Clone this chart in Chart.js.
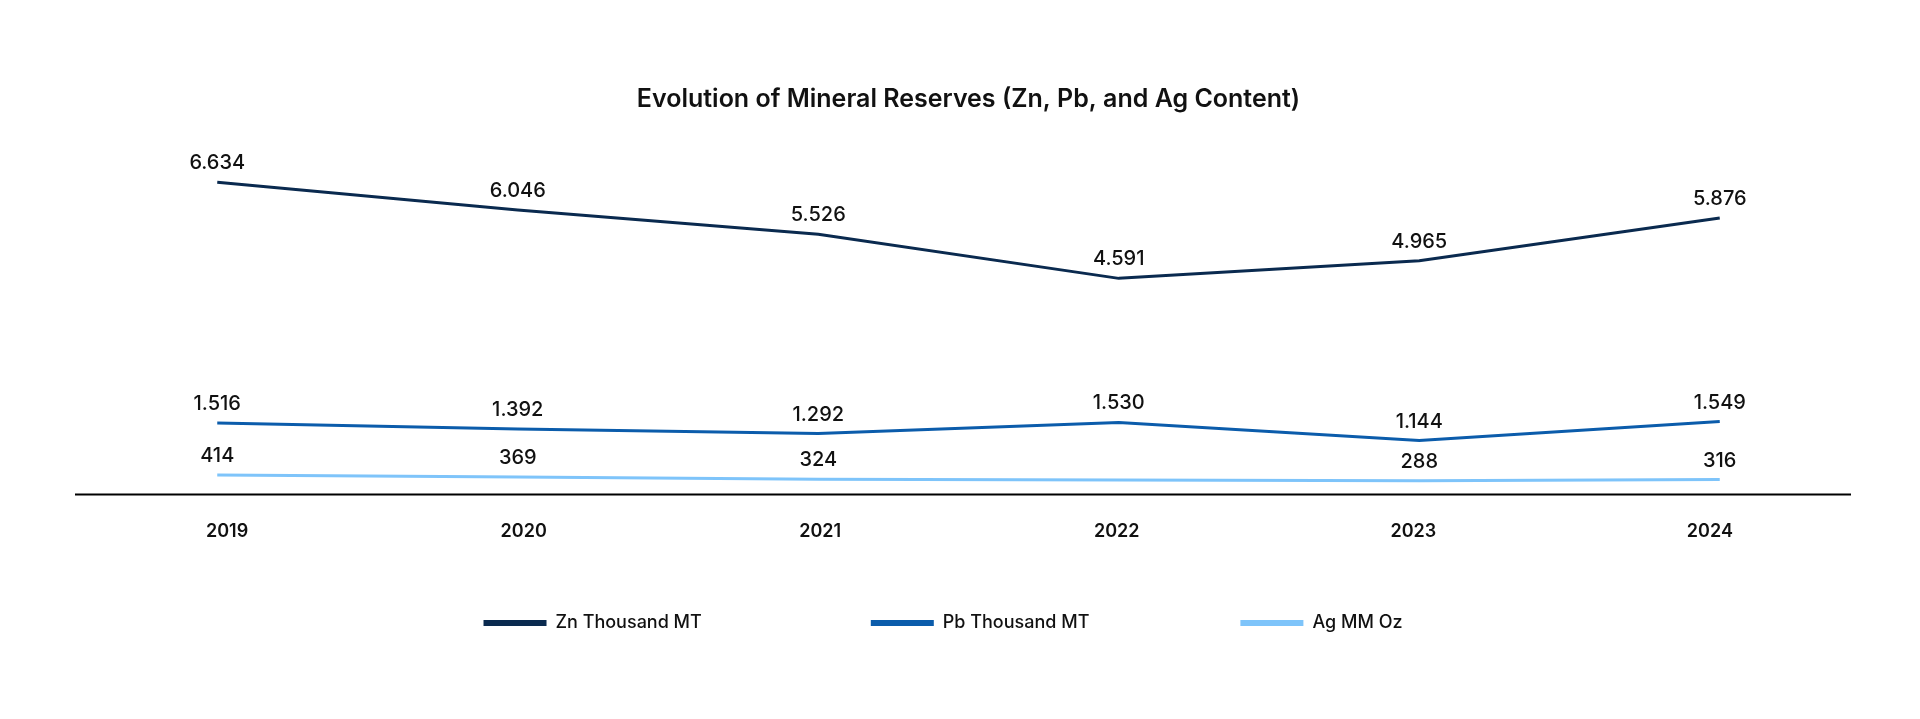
<!DOCTYPE html>
<html lang="en">
<head>
    <meta charset="UTF-8">
    <title>Evolution of Mineral Reserves</title>
    <script src="https://cdn.jsdelivr.net/npm/chart.js@4.4.1/dist/chart.umd.min.js"></script>
    <style>
        html, body {
            margin: 0;
            padding: 0;
            background: #ffffff;
        }

        #chart-wrapper {
            position: relative;
            width: 1920px;
            height: 719px;
        }
    </style>
</head>
<body>
<div id="chart-wrapper">
    <canvas id="reserves-chart"></canvas>
</div>

<script>
    const years = ["2019", "2020", "2021", "2022", "2023", "2024"];
    const seriesNames = ["Zn Thousand MT", "Pb Thousand MT", "Ag MM Oz"];
    const znValues = [6634, 6046, 5526, 4591, 4965, 5876];
    const pbValues = [1516, 1392, 1292, 1530, 1144, 1549];
    // no Ag figure is shown for 2022
    const agValues = [414, 369, 324, null, 288, 316];
    const seriesColors = ["#0a2a4f", "#0b5cab", "#7ec4fa"];

    const fontFamily = "Inter, 'Noto Sans', sans-serif";

    // value labels above every point
    const pointLabels = {
        id: "pointLabels",
        afterDatasetsDraw(chart) {
            const ctx = chart.ctx;
            ctx.save();
            ctx.font = "500 20px " + fontFamily;
            ctx.fillStyle = "#111111";
            ctx.textAlign = "center";
            ctx.textBaseline = "middle";

            chart.data.datasets.forEach((dataset, i) => {
                const meta = chart.getDatasetMeta(i);
                meta.data.forEach((point, index) => {
                    const value = dataset.data[index];
                    if (value === null) return;
                    ctx.fillText(value.toLocaleString("de-DE"), point.x, point.y - 19);
                });
            });
            ctx.restore();
        }
    };

    // black base line, a bit shorter than the category band
    const baseLine = {
        id: "baseLine",
        afterDraw(chart) {
            const ctx = chart.ctx;
            const area = chart.chartArea;
            const y = chart.scales.y.getPixelForValue(0);
            ctx.save();
            ctx.strokeStyle = "#000000";
            ctx.lineWidth = 2;
            ctx.beginPath();
            ctx.moveTo(area.left + 8, y);
            ctx.lineTo(area.right - 19, y);
            ctx.stroke();
            ctx.restore();
        }
    };

    // legend drawn under the axis, line swatches like the original
    const lineLegend = {
        id: "lineLegend",
        afterDraw(chart) {
            const ctx = chart.ctx;
            const swatchWidth = 63;
            const swatchHeight = 6;
            const textGap = 9;
            const itemGaps = [169, 151];
            const legendY = 623;

            ctx.save();
            ctx.font = "500 18px " + fontFamily;
            ctx.textBaseline = "middle";

            const widths = chart.data.datasets.map(dataset =>
                swatchWidth + textGap + ctx.measureText(dataset.label).width
            );
            const total = widths.reduce((a, b) => a + b, 0) + itemGaps[0] + itemGaps[1];
            let x = chart.width / 2 - 17 - total / 2;

            chart.data.datasets.forEach((dataset, i) => {
                ctx.fillStyle = dataset.borderColor;
                ctx.fillRect(x, legendY - swatchHeight / 2, swatchWidth, swatchHeight);
                ctx.fillStyle = "#111111";
                ctx.textAlign = "left";
                ctx.fillText(dataset.label, x + swatchWidth + textGap, legendY);
                x += widths[i] + (itemGaps[i] || 0);
            });
            ctx.restore();
        }
    };

    const makeDataset = (label, data, color) => ({
        label: label,
        data: data,
        borderColor: color,
        backgroundColor: color,
        borderWidth: 3,
        pointRadius: 0,
        pointHoverRadius: 0,
        tension: 0,
        spanGaps: true,
    });

    new Chart(document.getElementById("reserves-chart"), {
        type: "line",
        data: {
            labels: years,
            datasets: [
                makeDataset(seriesNames[0], znValues, seriesColors[0]),
                makeDataset(seriesNames[1], pbValues, seriesColors[1]),
                makeDataset(seriesNames[2], agValues, seriesColors[2]),
            ],
        },
        options: {
            responsive: true,
            maintainAspectRatio: false,
            animation: false,
            layout: {
                padding: {
                    left: 67,
                    right: 50,
                    top: 0,
                    bottom: 151,
                },
            },
            plugins: {
                legend: {
                    display: false,
                },
                tooltip: {
                    enabled: false,
                },
                title: {
                    display: true,
                    text: "Evolution of Mineral Reserves (Zn, Pb, and Ag Content)",
                    color: "#111111",
                    font: {
                        family: fontFamily,
                        size: 25,
                        weight: "600",
                    },
                    padding: {
                        top: 84,
                        bottom: 51,
                    },
                },
            },
            scales: {
                x: {
                    display: false,
                    offset: true,
                },
                // year labels sit on a slightly tighter spacing than the points
                years: {
                    type: "linear",
                    position: "bottom",
                    min: -0.54,
                    max: 5.54,
                    grid: {
                        display: false,
                        drawTicks: false,
                    },
                    border: {
                        display: false,
                    },
                    ticks: {
                        stepSize: 1,
                        includeBounds: false,
                        autoSkip: false,
                        maxRotation: 0,
                        color: "#111111",
                        padding: 26,
                        font: {
                            family: fontFamily,
                            size: 18,
                            weight: "600",
                        },
                        callback: value => years[value] || "",
                    },
                },
                y: {
                    display: false,
                    min: 0,
                    max: 7000,
                },
            },
        },
        plugins: [pointLabels, baseLine, lineLegend],
    });
</script>
</body>
</html>
